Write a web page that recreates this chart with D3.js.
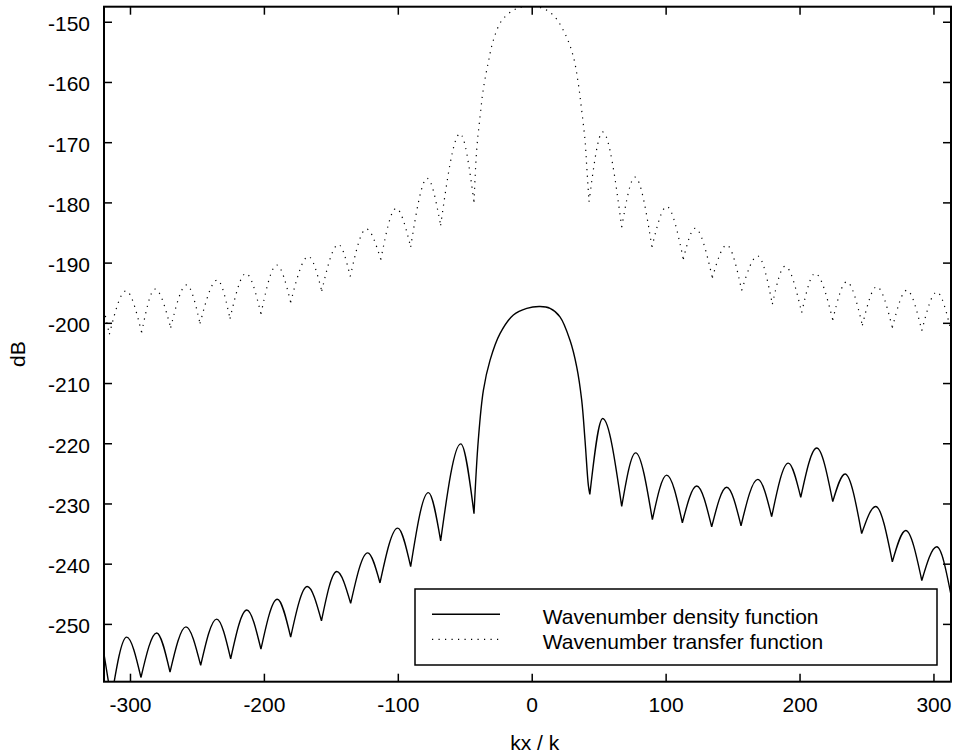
<!DOCTYPE html>
<html>
<head>
<meta charset="utf-8">
<script src="https://cdn.jsdelivr.net/npm/d3@7"></script>
<style>
    body { margin: 0; background: #fff; }
    #chart text { font-family: "Liberation Sans", Arial, Helvetica, sans-serif; font-size: 21px; fill: #000; }
</style>
</head>
<body>
<div id="chart"></div>
<script>
// values (kx/k, dB)
const densityX = [-319.4, -314.0, -302.5, -291.8, -280.1, -270.1, -258.2, -247.2, -235.3, -224.8,
    -212.8, -202.2, -190.0, -180.0, -167.6, -157.0, -145.6, -135.2, -122.5, -113.3,
    -100.1, -90.4, -77.2, -68.0, -53.0, -43.1,
    -39.9, -36.1, -31.1, -23.7, -13.7, -3.7, 6.2, 13.7, 21.1, 28.6, 33.6, 37.3, 39.8, 42.3, 43.4,
    53.0, 67.2, 77.6, 90.1, 100.8, 112.5, 123.2, 134.4, 145.6, 156.3, 168.8, 179.2,
    191.6, 200.9, 212.8, 224.8, 234.0, 246.4, 256.9, 269.3, 279.3, 291.3, 302.5, 313.1];
const densityY = [-255.0, -262.5, -252.2, -258.9, -251.5, -258.0, -250.5, -256.9, -249.2, -255.8,
    -247.7, -254.2, -245.9, -252.2, -243.8, -249.5, -241.3, -246.6, -238.2, -243.2,
    -234.1, -240.5, -228.2, -236.2, -220.1, -231.7,
    -219.5, -211.2, -206.2, -201.8, -198.7, -197.6, -197.3, -197.6, -199.0, -202.9, -207.3, -212.8, -219.5, -227.0, -228.5,
    -215.9, -230.5, -221.6, -232.7, -225.3, -233.2, -227.1, -233.9, -227.3, -233.7, -226.0, -232.2,
    -223.3, -229.0, -220.8, -229.7, -225.1, -235.0, -230.5, -239.7, -234.5, -242.8, -237.2, -245.2];

const transferX = [-319.4, -315.4, -303.0, -291.3, -281.3, -269.6, -257.7, -247.7, -234.8, -225.3,
    -213.4, -202.2, -190.4, -180.0, -166.8, -156.8, -144.4, -135.5, -123.5, -112.7,
    -101.3, -90.4, -78.0, -68.0, -53.5, -43.1,
    -41.1, -38.6, -36.1, -32.4, -28.7, -22.4, -13.7, -6.3, 6.2, 16.1, 24.9, 31.1, 34.8, 37.3, 39.8, 41.1, 42.8,
    53.0, 67.2, 77.1, 89.8, 100.8, 113.2, 122.0, 134.9, 145.6, 156.8, 168.8, 179.7,
    189.2, 201.6, 211.6, 224.8, 235.2, 246.9, 257.7, 269.3, 280.1, 291.3, 302.5, 313.1];
const transferY = [-197.8, -201.9, -194.7, -201.6, -194.4, -200.8, -193.7, -200.1, -192.9, -199.3,
    -191.8, -198.5, -190.4, -196.6, -189.0, -194.7, -187.0, -192.3, -184.4, -189.5,
    -181.0, -187.4, -176.0, -183.8, -168.6, -179.9,
    -171.3, -165.8, -161.1, -156.7, -153.1, -149.8, -148.1, -147.5, -147.6, -148.9, -152.0, -155.8, -160.3, -164.7, -169.7, -174.1, -179.9,
    -168.3, -184.1, -175.8, -187.4, -180.7, -189.4, -184.3, -192.5, -187.1, -194.6, -188.9, -196.9,
    -190.6, -198.3, -191.8, -199.5, -193.2, -200.4, -194.0, -200.8, -194.6, -201.3, -194.9, -201.3];

const xTicks = [-300, -200, -100, 0, 100, 200, 300];
const yTicks = [-150, -160, -170, -180, -190, -200, -210, -220, -230, -240, -250];
const seriesNames = ["Wavenumber density function", "Wavenumber transfer function"];
const xLabel = "kx / k";
const yLabel = "dB";

class SidelobePlot {
    constructor(DOM_ID) {
        this.id = DOM_ID;
        this.width = 955;
        this.height = 755;
        this.margin = { top: 6.7, right: 4, bottom: 73.3, left: 104 };
        this.innerW = this.width - this.margin.left - this.margin.right;
        this.innerH = this.height - this.margin.top - this.margin.bottom;

        this.x = d3.scaleLinear().domain([-319.4, 313.1]).range([0, this.innerW]);
        this.y = d3.scaleLinear().domain([-259.6, -147.5]).range([this.innerH, 0]);

        this.render();
    }

    render() {
        this.svg = d3.select("#" + this.id)
            .append("svg")
            .attr("width", this.width)
            .attr("height", this.height)
            .style("background-color", "white");

        this.plot = this.svg.append("g")
            .attr("transform", "translate(" + this.margin.left + "," + this.margin.top + ")");

        this.plot.append("clipPath").attr("id", "plotClip")
            .append("rect").attr("width", this.innerW).attr("height", this.innerH);

        this.renderAxes();
        this.renderSeries(densityX, densityY, null);
        this.renderSeries(transferX, transferY, "1.2,5.3");
        this.renderLegend();

        // frame on top
        this.plot.append("rect")
            .attr("width", this.innerW)
            .attr("height", this.innerH)
            .attr("fill", "none")
            .attr("stroke", "#000")
            .attr("stroke-width", 2);
    }

    renderAxes() {
        // plain hyphen minus like the original, not the unicode minus d3 uses
        let fmt = function (d) { return String(d); };
        let bottom = this.plot.append("g")
            .attr("transform", "translate(0," + this.innerH + ")")
            .call(d3.axisBottom(this.x).tickValues(xTicks).tickSize(-8).tickPadding(15).tickFormat(fmt));
        let left = this.plot.append("g")
            .call(d3.axisLeft(this.y).tickValues(yTicks).tickSize(-8).tickPadding(14).tickFormat(fmt));
        let top = this.plot.append("g")
            .call(d3.axisTop(this.x).tickValues(xTicks).tickSize(-8).tickFormat(""));
        let right = this.plot.append("g")
            .attr("transform", "translate(" + this.innerW + ",0)")
            .call(d3.axisRight(this.y).tickValues(yTicks).tickSize(-8).tickFormat(""));

        [bottom, left, top, right].forEach(function (g) {
            g.select(".domain").remove();
            g.selectAll(".tick line").attr("stroke", "#000").attr("stroke-width", 1.5);
            g.selectAll("text").attr("font-size", null).attr("font-family", null);
        });
        left.selectAll("text").attr("dy", "0.42em");

        this.svg.append("text")
            .attr("x", this.margin.left + this.x(0) + 3)
            .attr("y", 750)
            .attr("text-anchor", "middle")
            .text(xLabel);

        this.svg.append("text")
            .attr("transform", "translate(25," + (this.margin.top + this.innerH / 2 + 10) + ") rotate(-90)")
            .attr("text-anchor", "middle")
            .text(yLabel);
    }

    // each lobe is drawn on its own from null to null so nulls stay sharp;
    // the wide main lobe gets a smoother curve than the small side lobes
    renderSeries(xs, ys, dash) {
        let that = this;
        let pts = xs.map(function (d, i) { return [d, ys[i]]; });
        let cuts = [0];
        for (let i = 1; i < pts.length - 1; i++) {
            if (pts[i][1] < pts[i - 1][1] && pts[i][1] < pts[i + 1][1]) cuts.push(i);
        }
        cuts.push(pts.length - 1);

        let lobe = d3.line()
            .x(function (d) { return that.x(d[0]); })
            .y(function (d) { return that.y(d[1]); })
            .curve(d3.curveMonotoneX);
        let mainLobe = d3.line()
            .x(function (d) { return that.x(d[0]); })
            .y(function (d) { return that.y(d[1]); })
            .curve(d3.curveCatmullRom.alpha(0.5));

        let pathStr = "";
        for (let k = 0; k < cuts.length - 1; k++) {
            let seg = pts.slice(cuts[k], cuts[k + 1] + 1);
            pathStr += (seg.length > 4 ? mainLobe(seg) : lobe(seg));
        }

        this.plot.append("path")
            .attr("clip-path", "url(#plotClip)")
            .attr("d", pathStr)
            .attr("fill", "none")
            .attr("stroke", "#000")
            .attr("stroke-width", dash ? 1.2 : 1.4)
            .attr("stroke-dasharray", dash);
    }

    renderLegend() {
        let g = this.svg.append("g").attr("class", "legend");
        g.append("rect")
            .attr("x", 415).attr("y", 589)
            .attr("width", 522).attr("height", 76)
            .attr("fill", "white")
            .attr("stroke", "#000")
            .attr("stroke-width", 1.5);

        let rows = g.selectAll(".row")
            .data(seriesNames)
            .enter()
            .append("g")
            .attr("class", "row")
            .attr("transform", function (d, i) { return "translate(0," + (614.3 + i * 25) + ")"; });

        rows.append("line")
            .attr("x1", 432).attr("x2", 500)
            .attr("stroke", "#000")
            .attr("stroke-width", function (d, i) { return i ? 1.2 : 1.4; })
            .attr("stroke-dasharray", function (d, i) { return i ? "1.2,5.3" : null; });

        rows.append("text")
            .attr("x", 542.7)
            .attr("dy", "0.45em")
            .text(function (d) { return d; });
    }
}

new SidelobePlot("chart");
</script>
</body>
</html>
